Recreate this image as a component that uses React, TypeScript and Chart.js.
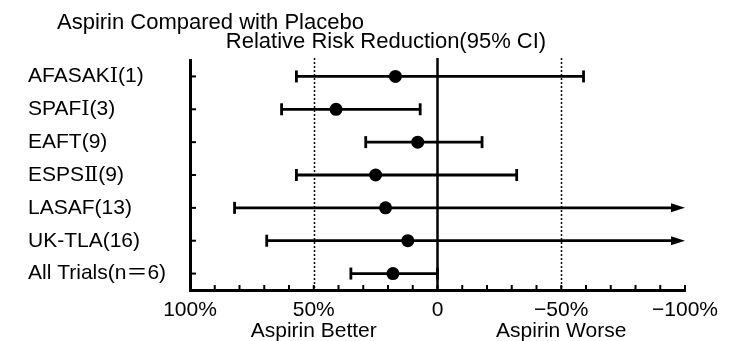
import React, { useEffect, useRef } from "react";
import { Chart, registerables } from "chart.js";

Chart.register(...registerables);

const rowLabels = [
  "AFASAKⅠ(1)",
  "SPAFⅠ(3)",
  "EAFT(9)",
  "ESPSⅡ(9)",
  "LASAF(13)",
  "UK-TLA(16)",
  "All Trials(n＝6)",
];
const pointEstimates = [17, 41, 8, 25, 21, 12, 18];
const ciLower = [57, 63, 29, 57, 82, 69, 35];
const ciUpper = [-59, 7, -18, -32, -100, -100, 0];
const ciOpenEnded = [false, false, false, false, true, true, false];

const xTickValues = [100, 50, 0, -50, -100];
const xTickLabels = ["100%", "50%", "0", "−50%", "−100%"];
const dottedRefs = [50, -50];
const solidRefs = [0];

const titleText = "Aspirin Compared with Placebo";
const subtitleText = "Relative Risk Reduction(95% CI)";
const sideLabels = [
  { value: 50, text: "Aspirin Better" },
  { value: -50, text: "Aspirin Worse" },
];

const FONT = "'Liberation Sans', Arial, 'DejaVu Serif', 'Noto Sans CJK JP', sans-serif";

const forestPlugin = {
  id: "forest",
  beforeDatasetsDraw(chart: any) {
    const { ctx, chartArea, scales } = chart;
    const xs = scales.x;
    const ys = scales.y;
    ctx.save();
    ctx.strokeStyle = "#000";
    ctx.lineWidth = 1.5;
    ctx.setLineDash([2, 2]);
    dottedRefs.forEach((v) => {
      const px = Math.round(xs.getPixelForValue(v)) + 0.5;
      ctx.beginPath();
      ctx.moveTo(px, chartArea.top - 2);
      ctx.lineTo(px, chartArea.bottom);
      ctx.stroke();
    });
    ctx.setLineDash([]);
    ctx.lineWidth = 2.5;
    solidRefs.forEach((v) => {
      const px = xs.getPixelForValue(v);
      ctx.beginPath();
      ctx.moveTo(px, chartArea.top - 2);
      ctx.lineTo(px, chartArea.bottom);
      ctx.stroke();
    });
    ctx.lineWidth = 2;
    for (let v = -100; v <= 100; v += 10) {
      const px = xs.getPixelForValue(v);
      ctx.beginPath();
      ctx.moveTo(px, chartArea.bottom);
      ctx.lineTo(px, chartArea.bottom - 5);
      ctx.stroke();
    }
    rowLabels.forEach((_, i) => {
      const py = ys.getPixelForValue(i);
      ctx.beginPath();
      ctx.moveTo(chartArea.left, py);
      ctx.lineTo(chartArea.left + 6, py);
      ctx.stroke();
    });
    ctx.lineWidth = 2.8;
    rowLabels.forEach((_, i) => {
      const py = ys.getPixelForValue(i);
      const x1 = xs.getPixelForValue(ciLower[i]);
      const x2 = xs.getPixelForValue(ciUpper[i]);
      ctx.beginPath();
      ctx.moveTo(x1, py);
      ctx.lineTo(ciOpenEnded[i] ? x2 - 10 : x2, py);
      ctx.stroke();
      ctx.beginPath();
      ctx.moveTo(x1, py - 6);
      ctx.lineTo(x1, py + 6);
      ctx.stroke();
      if (ciOpenEnded[i]) {
        ctx.beginPath();
        ctx.moveTo(x2, py);
        ctx.lineTo(x2 - 14, py - 4.5);
        ctx.lineTo(x2 - 14, py + 4.5);
        ctx.closePath();
        ctx.fillStyle = "#000";
        ctx.fill();
      } else {
        ctx.beginPath();
        ctx.moveTo(x2, py - 6);
        ctx.lineTo(x2, py + 6);
        ctx.stroke();
      }
    });
    ctx.restore();
  },
  afterDraw(chart: any) {
    const { ctx, scales } = chart;
    const xs = scales.x;
    ctx.save();
    ctx.fillStyle = "#000";
    ctx.font = `22px ${FONT}`;
    ctx.textBaseline = "alphabetic";
    ctx.textAlign = "left";
    ctx.fillText(titleText, 57, 29);
    ctx.textAlign = "center";
    ctx.fillText(subtitleText, 386, 48);
    ctx.font = `21px ${FONT}`;
    sideLabels.forEach((s) => {
      ctx.fillText(s.text, xs.getPixelForValue(s.value), 337);
    });
    ctx.restore();
  },
};

export default function App() {
  const ref = useRef<HTMLCanvasElement | null>(null);
  useEffect(() => {
    if (!ref.current) return;
    const chart = new Chart(ref.current, {
      type: "scatter",
      data: {
        datasets: [
          {
            data: rowLabels.map((l, i) => ({ x: pointEstimates[i], y: l })) as any,
            backgroundColor: "#000",
            borderWidth: 0,
            pointRadius: 6.5,
            pointHoverRadius: 6.5,
          },
        ],
      },
      options: {
        responsive: false,
        animation: false,
        devicePixelRatio: 1,
        layout: { padding: { left: 28, right: 56, top: 60, bottom: 0 } },
        plugins: {
          legend: { display: false },
          tooltip: { enabled: false },
          title: { display: false },
        },
        scales: {
          x: {
            type: "linear",
            position: "bottom",
            min: -100,
            max: 100,
            reverse: true,
            afterFit: (s: any) => {
              s.height = 51;
            },
            afterBuildTicks: (s: any) => {
              s.ticks = xTickValues.map((v) => ({ value: v }));
            },
            ticks: {
              autoSkip: false,
              maxRotation: 0,
              padding: 8,
              color: "#000",
              font: { size: 21, family: FONT },
              callback: (v: any) => {
                const idx = xTickValues.indexOf(Number(v));
                return idx >= 0 ? xTickLabels[idx] : "";
              },
            },
            grid: { drawOnChartArea: false, drawTicks: false },
            border: { display: true, color: "#000", width: 3 },
          },
          y: {
            type: "category",
            labels: rowLabels,
            offset: true,
            position: "left",
            afterFit: (s: any) => {
              s.width = 162;
            },
            ticks: {
              crossAlign: "far",
              padding: 0,
              color: "#000",
              font: { size: 21, family: FONT },
            },
            grid: { drawOnChartArea: false, drawTicks: false },
            border: { display: true, color: "#000", width: 3 },
          },
        },
      } as any,
      plugins: [forestPlugin],
    });
    return () => chart.destroy();
  }, []);
  return (
    <div style={{ position: "absolute", left: 0, top: 0, width: 741, height: 341, background: "#fff" }}>
      <canvas ref={ref} width={741} height={341} style={{ display: "block" }} />
    </div>
  );
}
